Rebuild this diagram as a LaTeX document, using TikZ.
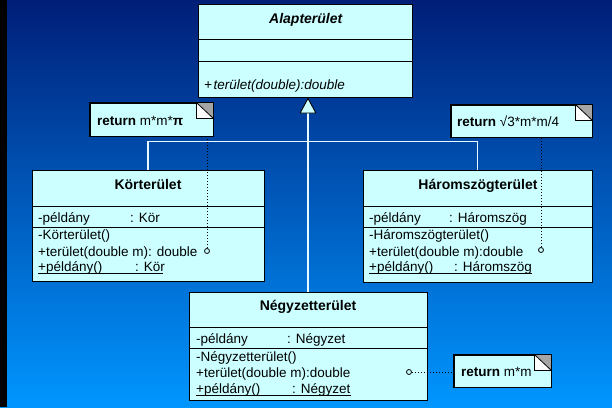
\documentclass[tikz,border=0pt]{standalone}
\usepackage{fontspec}
\setmainfont{Liberation Sans}
\usetikzlibrary{arrows.meta}
\definecolor{boxfill}{RGB}{204,255,255}
\definecolor{bgtop}{RGB}{0,30,120}
\definecolor{bgmid}{RGB}{0,95,200}
\definecolor{bgbot}{RGB}{0,150,255}
\definecolor{genline}{RGB}{230,250,255}
\definecolor{foldgray}{RGB}{165,165,165}
\begin{document}
\begin{tikzpicture}[x=1pt,y=-1pt,
  classbox/.style={draw=black,fill=boxfill,line width=0.9pt,inner sep=0pt},
  notebox/.style={draw=black,fill=boxfill,line width=0.9pt,inner sep=0pt},
  title/.style={anchor=base,inner sep=0pt,font=\fontsize{14}{16}\selectfont\bfseries},
  row/.style={anchor=base west,inner sep=0pt,font=\fontsize{13.5}{16}\selectfont},
  notetext/.style={anchor=base west,inner sep=0pt,font=\fontsize{13.5}{16}\selectfont},
  gen/.style={draw=genline,line width=1.3pt},
  noteline/.style={draw=black,line width=0.9pt,dash pattern=on 1.5pt off 1.5pt},
  port/.style={circle,draw=black,fill=boxfill,line width=0.8pt,minimum size=5pt,inner sep=0pt},
  divider/.style={draw=black,line width=0.9pt}
]
\useasboundingbox (0,0) rectangle (612,407);
% background
\shade[top color=bgtop,middle color=bgmid,bottom color=bgbot] (0,0) rectangle (612,407);
\fill[black] (0,0) rectangle (7,407);

% abstract base class
\node[classbox,minimum width=214pt,minimum height=93pt] (alap) at (305,50.5) {};
\draw[divider] (198,39) -- (412,39);
\draw[divider] (198,61) -- (412,61);
\node[title] (alapT) at (306,23) {\textit{Alapterület}};
\node[row] (alapM) at (204,89) {\textit{+\kern1.5pt terület(double):double}};

% Körterület
\node[classbox,minimum width=232pt,minimum height=111pt] (kor) at (148,225.5) {};
\draw[divider] (32,206) -- (264,206);
\draw[divider] (32,227) -- (264,227);
\node[title] (korT) at (148,189) {Körterület};
\node[row] (korA) at (38,222) {-példány};
\node[row] (korAt) at (130,222) {: Kör};
\node[row] (korM1) at (38,239) {-Körterület()};
\node[row] (korM2) at (38,256) {+terület(double m): double};
\node[row] (korM3) at (38,271) {+példány()};
\node[row] (korM3t) at (135,271) {: Kör};
\draw[black,line width=0.7pt] (38,273) -- (163,273);

% Háromszögterület
\node[classbox,minimum width=229pt,minimum height=112pt] (harom) at (477.5,226) {};
\draw[divider] (363,206) -- (592,206);
\draw[divider] (363,227) -- (592,227);
\node[title] (haromT) at (478,189) {Háromszögterület};
\node[row] (haromA) at (369,222) {-példány};
\node[row] (haromAt) at (449,222) {: Háromszög};
\node[row] (haromM1) at (369,239) {-Háromszögterület()};
\node[row] (haromM2) at (369,256) {+terület(double m):double};
\node[row] (haromM3) at (369,271) {+példány()};
\node[row] (haromM3t) at (454,271) {: Háromszög};
\draw[black,line width=0.7pt] (369,273) -- (532,273);

% Négyzetterület
\node[classbox,minimum width=238pt,minimum height=108pt] (negy) at (308,346) {};
\draw[divider] (189,327) -- (427,327);
\draw[divider] (189,348) -- (427,348);
\node[title] (negyT) at (308,310) {Négyzetterület};
\node[row] (negyA) at (196,343) {-példány};
\node[row] (negyAt) at (287,343) {: Négyzet};
\node[row] (negyM1) at (196,361) {-Négyzetterület()};
\node[row] (negyM2) at (196,377) {+terület(double m):double};
\node[row] (negyM3) at (196,393) {+példány()};
\node[row] (negyM3t) at (292,393) {: Négyzet};
\draw[black,line width=0.7pt] (196,395) -- (351,395);

% generalization
\draw[gen] (kor.north) -- ++(0,-28) -| (harom.north);
\draw[gen,-{Triangle[width=17pt,length=16pt,color=black,fill=boxfill,line width=0.9pt]}]
  (negy.north) -- (negy.north |- alap.south);

% notes with folded corner
\node[notebox,minimum width=123pt,minimum height=33pt] (n1) at (151.5,119.5) {};
\node[notebox,minimum width=141pt,minimum height=32pt] (n2) at (521.5,121) {};
\node[notebox,minimum width=97pt,minimum height=32pt] (n3) at (502.5,371) {};
\foreach \n in {n1,n2,n3}{
  \fill[foldgray] ([xshift=-17pt]\n.north east) -- (\n.north east) -- ([yshift=-16pt]\n.north east) -- cycle;
  \draw[black,line width=0.8pt,fill=white] ([xshift=-17pt]\n.north east) -- ([xshift=-17pt,yshift=-16pt]\n.north east) -- ([yshift=-16pt]\n.north east) -- cycle;
  \draw[black,line width=0.9pt] (\n.north west) rectangle (\n.south east);
}
\node[notetext] (n1t) at (97,125) {\textbf{return} m*m*\textbf{π}};
\node[notetext] (n2t) at (457,126) {\textbf{return} √3*m*m/4};
\node[notetext] (n3t) at (461,376) {\textbf{return} m*m};

% note attachments
\node[port] (p1) at (207,251) {};
\node[port] (p2) at (541,250) {};
\node[port] (p3) at (409,372) {};
\draw[noteline] (p1.north) -- (p1 |- n1.south);
\draw[noteline] (p2.north) -- (p2 |- n2.south);
\draw[noteline] (p3.east) -- (p3 -| n3.west);
\end{tikzpicture}
\end{document}
